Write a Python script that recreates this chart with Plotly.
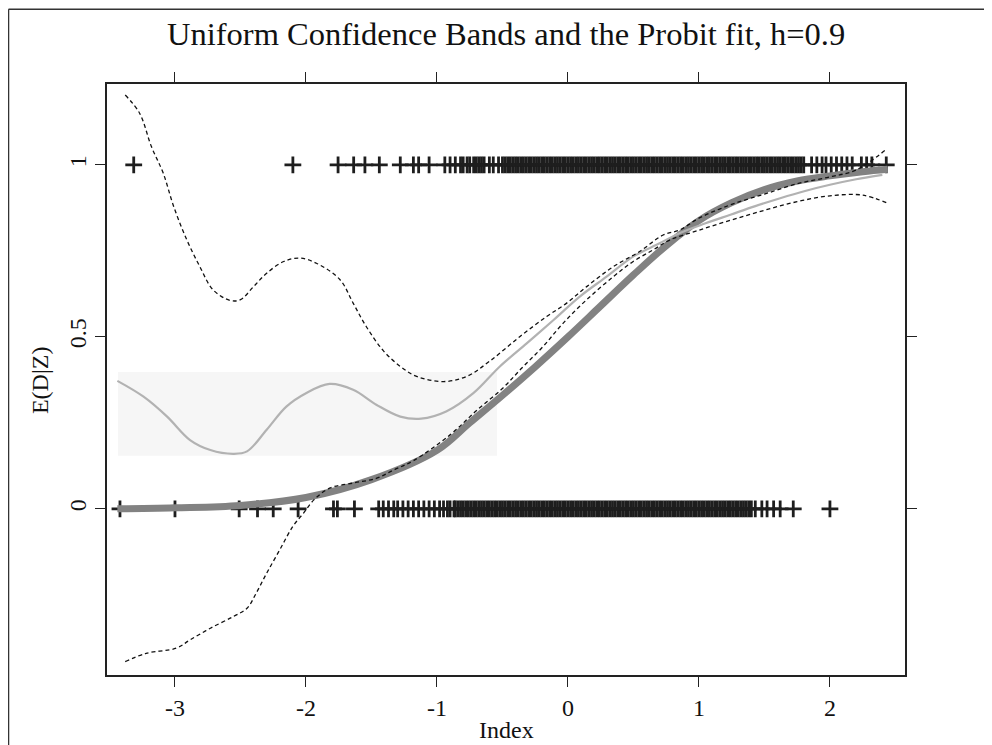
import plotly.graph_objects as go

# ---------------- data ----------------
title_text = "Uniform Confidence Bands and the Probit fit, h=0.9"
x_label = "Index"
y_label = "E(D|Z)"
x_ticks = [-3, -2, -1, 0, 1, 2]
x_tick_labels = ["-3", "-2", "-1", "0", "1", "2"]
y_ticks = [0, 0.5, 1]
y_tick_labels = ["0", "0.5", "1"]

# observations with D = 1 (rug of '+' at y = 1)
obs1_x = [-3.315, -2.10, -1.755, -1.636, -1.55, -1.44, -1.28, -1.18, -1.14, -1.06,
          -0.94, -0.90, -0.86, -0.82, -0.80, -0.77, -0.75,
          -0.72, -0.70, -0.68, -0.66, -0.64, -0.60, -0.57, -0.53, -0.50, -0.48,
          -0.46, -0.44, -0.42, -0.40, -0.38, -0.36, -0.34, -0.32, -0.30, -0.28,
          -0.26, -0.24, -0.22, -0.20, -0.18, -0.16, -0.14, -0.12, -0.10, -0.08,
          -0.06, -0.04, -0.02, 0.00, 0.02, 0.04, 0.06, 0.08, 0.10, 0.12,
          0.14, 0.16, 0.18, 0.20, 0.22, 0.24, 0.26, 0.28, 0.30, 0.32,
          0.34, 0.36, 0.38, 0.40, 0.42, 0.44, 0.46, 0.48, 0.50, 0.52,
          0.54, 0.56, 0.58, 0.60, 0.62, 0.64, 0.66, 0.68, 0.70, 0.72,
          0.74, 0.76, 0.78, 0.80, 0.82, 0.84, 0.86, 0.88, 0.90, 0.92,
          0.94, 0.96, 0.98, 1.00, 1.02, 1.04, 1.06, 1.08, 1.10, 1.12,
          1.14, 1.16, 1.18, 1.20, 1.22, 1.24, 1.26, 1.28, 1.30, 1.32,
          1.34, 1.36, 1.38, 1.40, 1.42, 1.44, 1.46, 1.48, 1.50, 1.52,
          1.54, 1.56, 1.58, 1.60, 1.62, 1.64, 1.66, 1.68, 1.70, 1.72,
          1.74, 1.76, 1.78, 1.80,
          1.86, 1.90, 1.94, 1.97, 2.01, 2.05, 2.09, 2.13, 2.17, 2.24, 2.28, 2.32, 2.43]
obs1_y = [1] * len(obs1_x)

# observations with D = 0 (rug of '+' at y = 0)
obs0_x = [-3.42, -3.00, -2.51, -2.37, -2.25, -2.06, -1.79, -1.76, -1.63,
          -1.445, -1.41, -1.37, -1.33, -1.30, -1.26, -1.22, -1.18, -1.14, -1.10,
          -1.06, -1.02, -0.98, -0.95, -0.92, -0.90, -0.87,
          -0.86, -0.84, -0.82, -0.80, -0.78, -0.76, -0.74, -0.72, -0.70, -0.68,
          -0.66, -0.64, -0.62, -0.60, -0.58, -0.56, -0.54, -0.52, -0.50, -0.48,
          -0.46, -0.44, -0.42, -0.40, -0.38, -0.36, -0.34, -0.32, -0.30, -0.28,
          -0.26, -0.24, -0.22, -0.20, -0.18, -0.16, -0.14, -0.12, -0.10, -0.08,
          -0.06, -0.04, -0.02, 0.00, 0.02, 0.04, 0.06, 0.08, 0.10, 0.12,
          0.14, 0.16, 0.18, 0.20, 0.22, 0.24, 0.26, 0.28, 0.30, 0.32,
          0.34, 0.36, 0.38, 0.40, 0.42, 0.44, 0.46, 0.48, 0.50, 0.52,
          0.54, 0.56, 0.58, 0.60, 0.62, 0.64, 0.66, 0.68, 0.70, 0.72,
          0.74, 0.76, 0.78, 0.80, 0.82, 0.84, 0.86, 0.88, 0.90, 0.92,
          0.94, 0.96, 0.98, 1.00, 1.02, 1.04, 1.06, 1.08, 1.10, 1.12,
          1.14, 1.16, 1.18, 1.20, 1.22, 1.24, 1.26, 1.28, 1.30, 1.32,
          1.34, 1.36, 1.38, 1.40,
          1.43, 1.48, 1.52, 1.57, 1.62, 1.72, 2.00]
obs0_y = [0] * len(obs0_x)

# probit fit (thick dark-grey curve)
probit_x = [-3.44, -3.0, -2.5, -2.0, -1.5, -1.0, -0.75, -0.5, -0.25, 0.0,
            0.25, 0.5, 0.75, 1.0, 1.25, 1.5, 1.75, 2.0, 2.25, 2.44]
probit_y = [0.000, 0.003, 0.010, 0.033, 0.085, 0.170, 0.250, 0.330, 0.413, 0.500,
            0.590, 0.680, 0.765, 0.838, 0.890, 0.928, 0.953, 0.968, 0.980, 0.987]

# nonparametric estimate (light-grey curve)
kernel_x = [-3.44, -3.24, -3.06, -2.885, -2.73, -2.555, -2.45, -2.30, -2.15, -2.0,
            -1.82, -1.64, -1.46, -1.28, -1.12, -0.93, -0.72, -0.52, -0.315, -0.11,
            0.09, 0.295, 0.50, 0.70, 0.855, 1.05, 1.24, 1.43, 1.62, 1.81,
            2.0, 2.2, 2.40]
kernel_y = [0.372, 0.326, 0.268, 0.200, 0.171, 0.160, 0.167, 0.230, 0.297, 0.336,
            0.363, 0.346, 0.302, 0.268, 0.262, 0.283, 0.337, 0.414, 0.481, 0.549,
            0.617, 0.675, 0.734, 0.772, 0.802, 0.830, 0.855, 0.880, 0.903, 0.924,
            0.942, 0.958, 0.971]

# upper uniform confidence band (dashed)
upper_x = [-3.38, -3.27, -3.18, -3.09, -3.01, -2.91, -2.81, -2.71, -2.58, -2.50,
           -2.40, -2.30, -2.17, -2.05, -1.92, -1.74, -1.64, -1.54, -1.41, -1.28,
           -1.155, -0.95, -0.773, -0.595, -0.366, -0.163, -0.01, 0.143, 0.346, 0.547,
           0.727, 0.855, 1.0, 1.25, 1.5, 1.75, 2.0, 2.2, 2.43]
upper_y = [1.203, 1.150, 1.053, 0.976, 0.879, 0.782, 0.704, 0.637, 0.606, 0.608,
           0.646, 0.685, 0.719, 0.729, 0.714, 0.666, 0.598, 0.530, 0.460, 0.414,
           0.385, 0.370, 0.385, 0.430, 0.501, 0.559, 0.598, 0.646, 0.704, 0.748,
           0.796, 0.811, 0.845, 0.885, 0.915, 0.945, 0.965, 0.985, 1.045]

# lower uniform confidence band (dashed)
lower_x = [-3.38, -3.22, -2.99, -2.885, -2.73, -2.555, -2.45, -2.38, -2.30, -2.20,
           -2.10, -2.02, -1.94, -1.82, -1.64, -1.46, -1.33, -1.18, -0.90, -0.70,
           -0.50, -0.35, -0.19, -0.036, 0.143, 0.346, 0.498, 0.651, 0.78, 1.0,
           1.25, 1.5, 1.75, 2.0, 2.25, 2.43]
lower_y = [-0.444, -0.420, -0.405, -0.381, -0.347, -0.313, -0.289, -0.245, -0.187, -0.119,
           -0.051, -0.013, 0.026, 0.060, 0.075, 0.089, 0.113, 0.140, 0.215, 0.285,
           0.350, 0.410, 0.472, 0.540, 0.608, 0.675, 0.719, 0.753, 0.782, 0.810,
           0.840, 0.868, 0.893, 0.910, 0.912, 0.890]

# ---------------- figure ----------------
FONT = "Liberation Serif"
fig = go.Figure()

cross = dict(symbol="cross-thin", size=12, line=dict(width=2.8, color="#1e1e1e"), color="#1e1e1e")
fig.add_trace(go.Scatter(x=obs1_x, y=obs1_y, mode="markers", marker=cross, showlegend=False))
fig.add_trace(go.Scatter(x=obs0_x, y=obs0_y, mode="markers", marker=cross, showlegend=False))

fig.add_trace(go.Scatter(x=probit_x, y=probit_y, mode="lines",
                         line=dict(color="#828282", width=7, shape="spline"), showlegend=False))
fig.add_trace(go.Scatter(x=kernel_x, y=kernel_y, mode="lines",
                         line=dict(color="#b2b2b2", width=2.2, shape="spline"), showlegend=False))
dash_line = dict(color="#111111", width=1.3, dash="4px,3px", shape="spline")
fig.add_trace(go.Scatter(x=upper_x, y=upper_y, mode="lines", line=dash_line, showlegend=False))
fig.add_trace(go.Scatter(x=lower_x, y=lower_y, mode="lines", line=dash_line, showlegend=False))

# faint grey patch behind the left part of the light curve
fig.add_shape(type="rect", xref="x", yref="y", x0=-3.435, x1=-0.542, y0=0.154, y1=0.398,
              fillcolor="#f6f6f6", line=dict(width=0), layer="below")

# outer frame lines (top and left)
fig.add_shape(type="line", xref="paper", yref="paper", x0=-0.1234, x1=1.11, y0=1.1265, y1=1.1265,
              line=dict(color="#333333", width=1.5))
fig.add_shape(type="line", xref="paper", yref="paper", x0=-0.1234, x1=-0.1234, y0=1.1265, y1=-0.12,
              line=dict(color="#333333", width=1.5))

fig.add_annotation(text=title_text, xref="paper", yref="paper", x=0.5, y=1.085,
                   showarrow=False, font=dict(family=FONT, size=32.5, color="#111"),
                   xanchor="center", yanchor="middle")
fig.add_annotation(text=x_label, xref="paper", yref="paper", x=0.5, y=-0.093,
                   showarrow=False, font=dict(family=FONT, size=24, color="#111"),
                   xanchor="center", yanchor="middle")
fig.add_annotation(text=y_label, xref="paper", yref="paper", x=-0.084, y=0.499,
                   showarrow=False, textangle=-90, font=dict(family=FONT, size=24, color="#111"),
                   xanchor="center", yanchor="middle")

axis_common = dict(showgrid=False, zeroline=False, showline=True, linecolor="#222",
                   linewidth=1.5, mirror="ticks", ticks="outside", ticklen=10,
                   tickwidth=1.3, tickcolor="#222",
                   tickfont=dict(family=FONT, size=24, color="#111"))
fig.update_xaxes(range=[-3.519, 2.573], tickvals=x_ticks, ticktext=x_tick_labels, **axis_common)
fig.update_yaxes(range=[-0.483, 1.235], tickvals=y_ticks, ticktext=y_tick_labels,
                 tickangle=-90, **axis_common)

# the page adds an 8px body margin, so the figure is 8px smaller and shifted
fig.update_layout(width=984, height=737, margin=dict(l=99, r=87, t=76, b=70),
                  paper_bgcolor="white", plot_bgcolor="white", showlegend=False)

fig.write_html("out.html")
